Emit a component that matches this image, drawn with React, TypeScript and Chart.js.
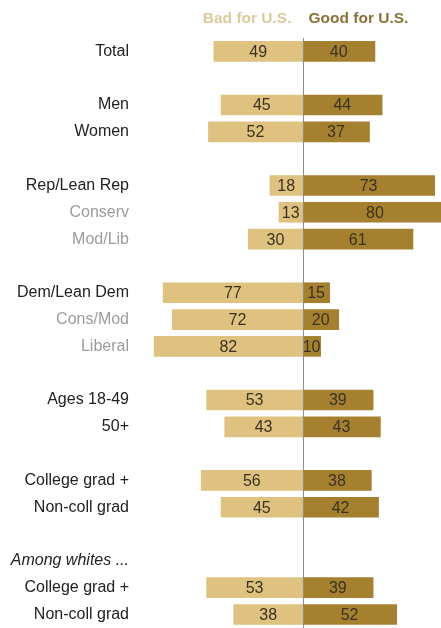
import React, { useEffect, useRef } from "react";
import { Chart, registerables } from "chart.js";

Chart.register(...registerables);

const categories = [
  "Total", "", "Men", "Women", "",
  "Rep/Lean Rep", "Conserv", "Mod/Lib", "",
  "Dem/Lean Dem", "Cons/Mod", "Liberal", "",
  "Ages 18-49", "50+", "",
  "College grad +", "Non-coll grad", "",
  "Among whites ...", "College grad +", "Non-coll grad",
];
const badForUS = [49, null, 45, 52, null, 18, 13, 30, null, 77, 72, 82, null, 53, 43, null, 56, 45, null, null, 53, 38];
const goodForUS = [40, null, 44, 37, null, 73, 80, 61, null, 15, 20, 10, null, 39, 43, null, 38, 42, null, null, 39, 52];
const seriesNames = ["Bad for U.S.", "Good for U.S."];
const subgroupRows = [6, 7, 10, 11];
const italicRows = [19];

const FONT = "'Liberation Sans', Arial, sans-serif";
const BAD_COLOR = "#dfc27f";
const GOOD_COLOR = "#a5802f";

export default function App() {
  const ref = useRef<HTMLCanvasElement | null>(null);

  useEffect(() => {
    if (!ref.current) return;

    const overlay = {
      id: "overlay",
      afterDatasetsDraw(chart: any) {
        const { ctx, chartArea, scales } = chart;
        const x0 = Math.round(scales.x.getPixelForValue(0)) + 0.5;
        ctx.save();
        // center line
        ctx.strokeStyle = "#8c8c8c";
        ctx.lineWidth = 1;
        ctx.beginPath();
        ctx.moveTo(x0, chartArea.top);
        ctx.lineTo(x0, chart.height);
        ctx.stroke();
        // value labels
        ctx.font = `16px ${FONT}`;
        ctx.fillStyle = "#3a3220";
        ctx.textAlign = "center";
        ctx.textBaseline = "middle";
        chart.data.datasets.forEach((ds: any, di: number) => {
          const meta = chart.getDatasetMeta(di);
          meta.data.forEach((el: any, i: number) => {
            const v = ds.data[i];
            if (v == null) return;
            ctx.fillText(String(Math.abs(v)), (el.x + el.base) / 2, el.y + 1);
          });
        });
        // headers
        ctx.font = `bold 15.5px ${FONT}`;
        ctx.textBaseline = "middle";
        ctx.textAlign = "right";
        ctx.fillStyle = "#dccb9a";
        ctx.fillText(seriesNames[0], x0 - 12, 19);
        ctx.textAlign = "left";
        ctx.fillStyle = "#8a7238";
        ctx.fillText(seriesNames[1], x0 + 5, 19);
        ctx.restore();
      },
    };

    const chart = new Chart(ref.current, {
      type: "bar",
      data: {
        labels: categories,
        datasets: [
          {
            label: seriesNames[0],
            data: badForUS.map((v) => (v == null ? null : -v)),
            backgroundColor: BAD_COLOR,
            barThickness: 20,
          },
          {
            label: seriesNames[1],
            data: goodForUS,
            backgroundColor: GOOD_COLOR,
            barThickness: 20,
          },
        ],
      },
      options: {
        indexAxis: "y",
        animation: false,
        responsive: false,
        layout: { padding: { top: 38, left: 0, right: 0, bottom: 0 } },
        plugins: {
          legend: { display: false },
          tooltip: { enabled: false },
        },
        scales: {
          x: {
            display: false,
            stacked: true,
            min: -89.8,
            max: 76.5,
          },
          y: {
            stacked: true,
            grid: { display: false, drawTicks: true, tickLength: 11 },
            border: { display: false },
            afterFit: (scale: any) => {
              scale.width = 140;
            },
            ticks: {
              autoSkip: false,
              padding: 0,
              color: (c: any) => (subgroupRows.includes(c.index) ? "#9b9b9b" : "#222222"),
              font: (c: any) => ({
                family: FONT,
                size: 16,
                lineHeight: 0.01,
                style: italicRows.includes(c.index) ? "italic" : "normal",
              }),
            },
          },
        },
      },
      plugins: [overlay],
    } as any);

    return () => chart.destroy();
  }, []);

  return (
    <div style={{ position: "absolute", left: 0, top: 0, width: 441, height: 628, background: "#fff" }}>
      <canvas ref={ref} width={441} height={628} style={{ display: "block" }} />
    </div>
  );
}
